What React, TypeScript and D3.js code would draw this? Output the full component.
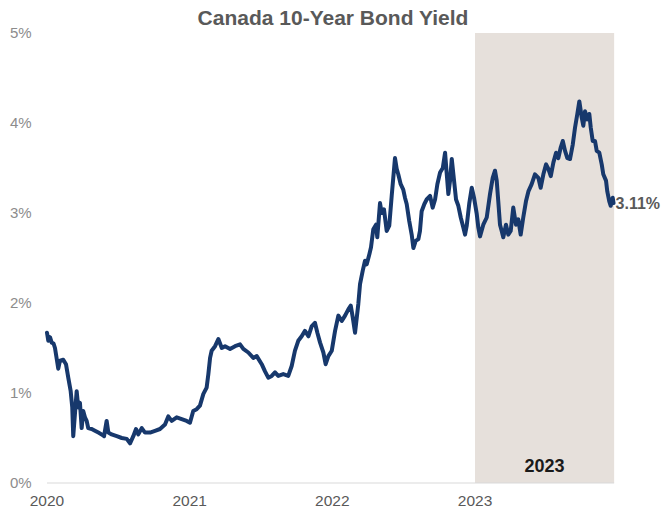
import React from "react";
import * as d3 from "d3";

// time as decimal years, yield in %
const years = [
  2020.000, 2020.009, 2020.021, 2020.033, 2020.046, 2020.056, 2020.068, 2020.079, 2020.091, 2020.114,
  2020.133, 2020.149, 2020.166, 2020.177, 2020.184, 2020.196, 2020.208, 2020.219, 2020.231, 2020.243,
  2020.254, 2020.266, 2020.278, 2020.289, 2020.313, 2020.336, 2020.360, 2020.383, 2020.400, 2020.418,
  2020.430, 2020.453, 2020.489, 2020.524, 2020.559, 2020.582, 2020.605, 2020.624, 2020.640, 2020.664,
  2020.687, 2020.722, 2020.757, 2020.792, 2020.827, 2020.850, 2020.874, 2020.909, 2020.944, 2020.979,
  2021.002, 2021.025, 2021.049, 2021.072, 2021.096, 2021.119, 2021.131, 2021.143, 2021.154, 2021.178,
  2021.201, 2021.225, 2021.248, 2021.283, 2021.318, 2021.353, 2021.376, 2021.411, 2021.446, 2021.470,
  2021.505, 2021.528, 2021.551, 2021.575, 2021.598, 2021.621, 2021.656, 2021.691, 2021.715, 2021.738,
  2021.761, 2021.785, 2021.808, 2021.832, 2021.855, 2021.878, 2021.895, 2021.914, 2021.937, 2021.953,
  2021.972, 2021.996, 2022.019, 2022.042, 2022.066, 2022.089, 2022.112, 2022.129, 2022.143, 2022.159,
  2022.182, 2022.194, 2022.213, 2022.229, 2022.241, 2022.259, 2022.271, 2022.287, 2022.306, 2022.315,
  2022.334, 2022.346, 2022.362, 2022.381, 2022.399, 2022.416, 2022.427, 2022.439, 2022.451, 2022.462,
  2022.479, 2022.497, 2022.509, 2022.521, 2022.539, 2022.556, 2022.568, 2022.584, 2022.603, 2022.614,
  2022.626, 2022.645, 2022.661, 2022.685, 2022.703, 2022.720, 2022.736, 2022.755, 2022.774, 2022.790,
  2022.802, 2022.813, 2022.825, 2022.837, 2022.853, 2022.867, 2022.883, 2022.900, 2022.918, 2022.930,
  2022.942, 2022.960, 2022.977, 2022.993, 2023.012, 2023.023, 2023.035, 2023.058, 2023.082, 2023.105,
  2023.124, 2023.140, 2023.152, 2023.163, 2023.175, 2023.187, 2023.198, 2023.217, 2023.233, 2023.250,
  2023.268, 2023.287, 2023.303, 2023.320, 2023.338, 2023.357, 2023.374, 2023.397, 2023.420, 2023.444,
  2023.460, 2023.479, 2023.498, 2023.514, 2023.531, 2023.549, 2023.568, 2023.584, 2023.601, 2023.615,
  2023.631, 2023.647, 2023.666, 2023.685, 2023.701, 2023.717, 2023.731, 2023.748, 2023.759, 2023.771,
  2023.787, 2023.801, 2023.811, 2023.825, 2023.841, 2023.853, 2023.871, 2023.888, 2023.899, 2023.918,
  2023.927, 2023.941, 2023.951, 2023.965, 2023.971,
];

const yields = [
  1.67, 1.58, 1.62, 1.56, 1.55, 1.50, 1.38, 1.27, 1.36, 1.37,
  1.32, 1.17, 1.02, 0.84, 0.52, 0.77, 1.02, 0.84, 0.89, 0.61,
  0.80, 0.73, 0.69, 0.61, 0.60, 0.58, 0.56, 0.54, 0.52, 0.69,
  0.56, 0.54, 0.52, 0.50, 0.49, 0.44, 0.52, 0.60, 0.54, 0.61,
  0.56, 0.56, 0.58, 0.60, 0.65, 0.74, 0.69, 0.73, 0.71, 0.69,
  0.67, 0.80, 0.82, 0.86, 0.99, 1.06, 1.21, 1.39, 1.47, 1.52,
  1.60, 1.50, 1.52, 1.49, 1.52, 1.54, 1.49, 1.45, 1.39, 1.41,
  1.32, 1.24, 1.17, 1.19, 1.23, 1.19, 1.21, 1.19, 1.30, 1.47,
  1.58, 1.63, 1.69, 1.63, 1.74, 1.78, 1.67, 1.56, 1.45, 1.32,
  1.41, 1.47, 1.69, 1.86, 1.80, 1.86, 1.93, 1.97, 1.84, 1.67,
  1.99, 2.21, 2.36, 2.47, 2.43, 2.54, 2.62, 2.82, 2.87, 2.73,
  3.11, 3.00, 3.04, 2.80, 2.86, 3.19, 3.39, 3.61, 3.49, 3.43,
  3.32, 3.26, 3.17, 3.10, 2.91, 2.76, 2.61, 2.69, 2.71, 2.80,
  3.02, 3.10, 3.15, 3.19, 3.06, 3.15, 3.32, 3.45, 3.50, 3.67,
  3.43, 3.21, 3.36, 3.60, 3.36, 3.15, 3.08, 2.95, 2.84, 2.76,
  2.86, 3.11, 3.28, 3.17, 2.99, 2.84, 2.74, 2.87, 2.95, 3.21,
  3.39, 3.47, 3.36, 3.13, 2.87, 2.80, 2.73, 2.87, 2.76, 2.80,
  3.06, 2.87, 2.93, 2.76, 2.95, 3.13, 3.24, 3.32, 3.43, 3.39,
  3.28, 3.43, 3.54, 3.49, 3.41, 3.56, 3.67, 3.61, 3.73, 3.80,
  3.69, 3.61, 3.60, 3.76, 3.95, 4.10, 4.24, 4.06, 3.97, 4.13,
  4.04, 4.10, 3.95, 3.80, 3.80, 3.69, 3.67, 3.54, 3.43, 3.36,
  3.24, 3.13, 3.08, 3.17, 3.11,
];

const yTicks = [0, 1, 2, 3, 4, 5];
const xTicks = [2020, 2021, 2022, 2023];
const highlightStart = 2023;
const highlightEnd = 2023.975;
const highlightLabel = "2023";
const lastLabel = "3.11%";
const title = "Canada 10-Year Bond Yield";

export default function App() {
  const width = 665;
  const height = 512;
  const x = d3.scaleLinear().domain([2020, 2024]).range([47, 617.7]);
  const y = d3.scaleLinear().domain([0, 5]).range([483, 33]);

  const pts: [number, number][] = years.map((t, i) => [t, yields[i]]);
  const line = d3
    .line<[number, number]>()
    .x((d) => x(d[0]))
    .y((d) => y(d[1]))
    .curve(d3.curveLinear);

  const last = pts[pts.length - 1];
  const font = "'Liberation Sans', Arial, sans-serif";

  return (
    <svg
      width={width}
      height={height}
      style={{ position: "absolute", left: 0, top: 0, background: "#fff" }}
      fontFamily={font}
    >
      <rect
        x={x(highlightStart)}
        y={y(5)}
        width={x(highlightEnd) - x(highlightStart)}
        height={y(0) - y(5)}
        fill="#e6e0db"
      />
      <line
        x1={x(2020)}
        x2={x(highlightEnd)}
        y1={y(0)}
        y2={y(0)}
        stroke="#d9d9d9"
        strokeWidth={1}
      />
      {yTicks.map((t) => (
        <text
          key={t}
          x={10}
          y={y(t)}
          dy="0.35em"
          fontSize={15}
          fill="#8c8c8c"
        >
          {`${t}%`}
        </text>
      ))}
      {xTicks.map((t) => (
        <text
          key={t}
          x={x(t)}
          y={506}
          textAnchor="middle"
          fontSize={15.5}
          fill="#595959"
        >
          {t}
        </text>
      ))}
      <path
        d={line(pts) || ""}
        fill="none"
        stroke="#17386c"
        strokeWidth={4}
        strokeLinejoin="round"
        strokeLinecap="round"
      />
      <text
        x={x(last[0]) + 2}
        y={y(last[1])}
        dy="0.35em"
        fontSize={16}
        fontWeight="bold"
        fill="#595959"
      >
        {lastLabel}
      </text>
      <text
        x={(x(highlightStart) + x(highlightEnd)) / 2}
        y={472}
        textAnchor="middle"
        fontSize={18}
        fontWeight="bold"
        fill="#1a1a1a"
      >
        {highlightLabel}
      </text>
      <text
        x={333}
        y={25}
        textAnchor="middle"
        fontSize={21}
        fontWeight="bold"
        fill="#595959"
      >
        {title}
      </text>
    </svg>
  );
}
